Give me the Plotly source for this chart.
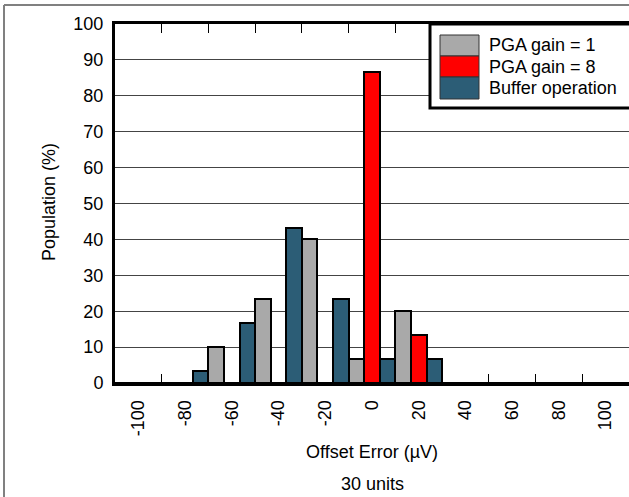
import plotly.graph_objects as go

# Histogram data: population (%) per offset-error bin, 30 units
categories = ["-100", "-80", "-60", "-40", "-20", "0", "20", "40", "60", "80", "100"]
series_names = ["PGA gain = 1", "PGA gain = 8", "Buffer operation"]
gain1 = [0, 0, 10, 23.3, 40, 6.7, 20, 0, 0, 0, 0]
gain8 = [0, 0, 0, 0, 0, 86.7, 13.3, 0, 0, 0, 0]
buffer_op = [0, 3.3, 16.7, 43.3, 23.3, 6.7, 6.7, 0, 0, 0, 0]
series_values = [gain1, gain8, buffer_op]
colors = ["#A9A9A9", "#FF0000", "#2C5D76"]

W, H = 629, 497
L, R, T, B = 115, 0, 24, 114
PW, PH = W - L - R, H - T - B
FONT = "Arial, Liberation Sans, sans-serif"


def px(x):
    return (x - L) / PW


def py(y):
    return (H - B - y) / PH


fig = go.Figure()
for name, vals, col in zip(series_names, series_values, colors):
    fig.add_trace(go.Bar(
        x=categories, y=vals, name=name,
        marker=dict(color=col, line=dict(color="black", width=2)),
        showlegend=False,
    ))

shapes = [
    # outer gray frame (top and left edges)
    dict(type="line", xref="paper", yref="paper", x0=px(4), x1=px(W + 10), y0=py(5), y1=py(5),
         line=dict(color="#808080", width=2)),
    dict(type="line", xref="paper", yref="paper", x0=px(4), x1=px(4), y0=py(5), y1=py(H + 10),
         line=dict(color="#808080", width=2)),
    # legend box
    dict(type="rect", xref="paper", yref="paper", x0=px(430), x1=px(W + 20), y0=py(24), y1=py(108),
         fillcolor="white", line=dict(color="black", width=3)),
]
annotations = []
rows = [(35, 56), (56, 77), (77, 99)]
for name, col, (y0, y1) in zip(series_names, colors, rows):
    shapes.append(dict(type="rect", xref="paper", yref="paper", x0=px(440), x1=px(479),
                       y0=py(y1), y1=py(y0), fillcolor=col, line=dict(color="#333", width=1)))
    annotations.append(dict(x=px(487), y=py((y0 + y1) / 2), xref="paper", yref="paper",
                            text=name, showarrow=False, xanchor="left", yanchor="middle",
                            font=dict(size=18, color="black", family=FONT)))

annotations += [
    dict(x=0.5, y=py(452), xref="paper", yref="paper", text="Offset Error (µV)", showarrow=False,
         xanchor="center", yanchor="middle", font=dict(size=18, color="black", family=FONT)),
    dict(x=0.5, y=py(484), xref="paper", yref="paper", text="30 units", showarrow=False,
         xanchor="center", yanchor="middle", font=dict(size=18, color="black", family=FONT)),
    dict(x=px(49), y=py(202), xref="paper", yref="paper", text="Population (%)", showarrow=False,
         textangle=-90, xanchor="center", yanchor="middle",
         font=dict(size=18, color="black", family=FONT)),
]

fig.update_layout(
    width=W, height=H,
    margin=dict(l=L, r=R, t=T, b=B),
    paper_bgcolor="white", plot_bgcolor="white",
    barmode="group", bargap=0, bargroupgap=0,
    font=dict(family=FONT, size=18, color="black"),
    shapes=shapes, annotations=annotations,
)
fig.update_xaxes(
    type="category", showline=True, linewidth=3, linecolor="black", mirror="ticks",
    ticks="inside", ticklen=9, tickwidth=1, tickcolor="black", tickson="boundaries",
    tickangle=-90, ticklabelstandoff=7, showgrid=False, tickfont=dict(size=18),
)
fig.update_yaxes(
    range=[0, 100], dtick=10, showline=True, linewidth=3, linecolor="black", mirror=False,
    ticks="", showgrid=True, gridcolor="#444", gridwidth=1, zeroline=False,
    ticklabelstandoff=5, tickfont=dict(size=18),
)

# page body has a default margin; remove it so the figure sits at the window's corner
fig.write_html(
    "out.html",
    config={"displayModeBar": False},
    post_script="document.body.style.margin='0';document.body.style.overflow='hidden';",
)
